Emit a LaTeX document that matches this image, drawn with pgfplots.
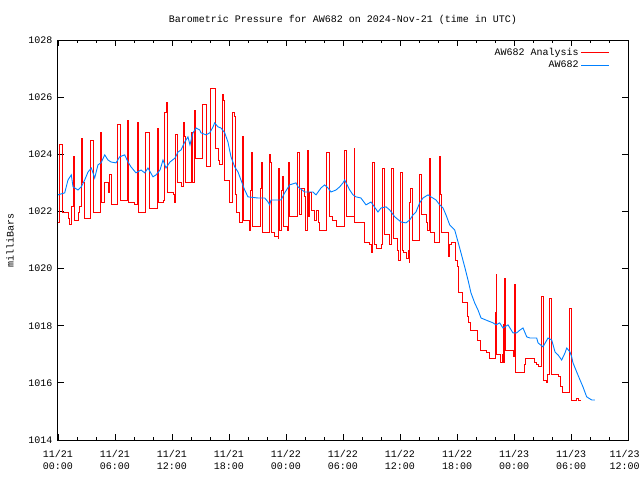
\documentclass[border=0pt]{standalone}
\usepackage{pgfplots}
\pgfplotsset{compat=1.18}
\usepackage{fontspec}
\setmainfont{Liberation Mono}
\definecolor{awred}{RGB}{255,0,0}
\definecolor{awblue}{RGB}{0,128,255}
\newcommand{\gfont}{\fontsize{10}{12}\selectfont}
\begin{document}
\begin{tikzpicture}
\path[use as bounding box] (-58pt,-40pt) rectangle (582pt,440pt);
\begin{axis}[
  scale only axis, width=570pt, height=400pt,
  xmin=0, xmax=60, ymin=1014, ymax=1028,
  xtick={0,6,...,60},
  xticklabels={{11/21\\00:00},{11/21\\06:00},{11/21\\12:00},{11/21\\18:00},{11/22\\00:00},{11/22\\06:00},{11/22\\12:00},{11/22\\18:00},{11/23\\00:00},{11/23\\06:00},{11/23\hspace*{7pt}\\12:00\hspace*{7pt}}},
  minor x tick num=2,
  ytick={1014,1016,...,1028},
  /pgf/number format/1000 sep={},
  /pgf/number format/assume math mode=true,
  tick label style={font=\gfont},
  xticklabel style={align=center, yshift=-7pt},
  yticklabel style={xshift=-2pt},
  major tick length=6pt, minor tick length=3pt,
  tick style={black, line width=0.8pt},
  axis line style={line width=1pt},
  ylabel={milliBars},
  ylabel style={font=\gfont, at={(axis description cs:-0.084,0.5)}, anchor=center},
  title={Barometric Pressure for AW682 on 2024-Nov-21 (time in UTC)},
  title style={font=\gfont, at={(axis description cs:0.5,1)}, anchor=base, yshift=11pt},
  legend plot pos=right,
  legend cell align=right,
  legend style={draw=none, fill=none, font=\gfont, at={(axis description cs:0.968,0.985)}, anchor=north east, row sep=0pt, inner sep=0pt},
  legend image code/.code={\draw[#1] (0pt,0pt) -- (28pt,0pt);},
]
\addplot[const plot mark left, awred, line width=0.9pt] coordinates {
(0.00,1021.60) (0.18,1024.33) (0.42,1021.98) (1.05,1021.77) (1.23,1021.53) (1.44,1022.16) (1.63,1023.94) (1.68,1021.70) (2.11,1021.95) (2.28,1022.16) (2.45,1024.57) (2.53,1023.00) (2.81,1021.77) (3.40,1024.50) (3.76,1021.98) (4.49,1024.75) (4.58,1022.30) (4.92,1023.00) (5.26,1022.65) (5.44,1023.28) (5.61,1022.23) (6.24,1025.03) (6.60,1022.40) (7.29,1025.20) (7.44,1022.30) (8.00,1022.23) (8.35,1025.10) (8.42,1021.95) (9.19,1024.75) (9.65,1022.12) (10.45,1024.92) (10.60,1022.30) (11.05,1022.40) (11.23,1025.45) (11.40,1025.83) (11.51,1022.68) (12.11,1022.58) (12.28,1022.30) (12.39,1024.68) (12.53,1023.00) (12.98,1022.86) (13.16,1025.10) (13.26,1024.61) (13.40,1023.00) (14.03,1024.75) (14.11,1023.00) (14.32,1025.55) (14.49,1023.87) (15.19,1025.73) (15.61,1023.56) (16.07,1026.32) (16.53,1026.08) (16.60,1024.22) (16.84,1023.80) (17.02,1023.63) (17.26,1026.08) (17.44,1025.90) (17.55,1023.10) (18.03,1022.30) (18.32,1025.45) (18.53,1025.31) (18.66,1022.58) (18.77,1021.98) (19.13,1021.63) (19.40,1024.61) (19.47,1021.70) (20.11,1021.53) (20.18,1021.35) (20.28,1022.75) (20.35,1024.08) (20.42,1021.46) (21.34,1022.82) (21.40,1023.73) (21.47,1021.25) (22.21,1023.98) (22.35,1023.73) (22.45,1021.25) (22.81,1021.11) (23.16,1021.07) (23.23,1023.52) (23.34,1021.35) (23.51,1022.75) (23.58,1023.21) (23.68,1021.46) (24.14,1021.35) (24.21,1023.73) (24.39,1021.81) (25.16,1024.08) (25.44,1021.88) (25.61,1022.82) (25.97,1022.51) (26.07,1021.35) (26.24,1024.15) (26.39,1021.81) (26.49,1022.68) (26.66,1022.05) (27.02,1021.70) (27.19,1022.05) (27.37,1021.60) (27.55,1021.35) (28.24,1024.08) (28.53,1021.81) (28.87,1021.70) (29.29,1021.46) (30.11,1024.15) (30.35,1021.81) (31.16,1024.22) (31.23,1021.63) (32.28,1020.93) (32.81,1020.83) (32.98,1020.58) (33.08,1023.70) (33.26,1020.83) (33.51,1020.72) (34.03,1020.83) (34.14,1023.52) (34.32,1021.18) (34.84,1020.83) (35.08,1023.52) (35.26,1021.07) (35.72,1020.65) (35.79,1020.30) (36.07,1023.35) (36.21,1020.65) (36.32,1020.55) (36.66,1020.37) (36.84,1020.65) (36.95,1020.20) (37.02,1022.33) (37.13,1022.82) (37.26,1021.00) (38.05,1023.28) (38.24,1021.88) (38.77,1021.63) (38.87,1021.35) (39.13,1023.87) (39.19,1021.25) (39.58,1020.90) (40.11,1023.91) (40.24,1022.58) (40.35,1021.25) (41.05,1020.93) (41.13,1020.41) (41.23,1020.83) (41.40,1020.90) (41.82,1020.30) (42.03,1020.06) (42.18,1019.18) (42.53,1018.83) (43.08,1018.31) (43.23,1018.10) (43.44,1017.85) (44.14,1017.50) (44.49,1017.15) (45.08,1017.08) (45.44,1016.87) (46.03,1018.45) (46.11,1019.78) (46.18,1016.98) (46.60,1016.70) (46.74,1016.98) (46.84,1018.03) (46.89,1016.73) (47.02,1019.67) (47.13,1017.15) (47.89,1016.91) (48.03,1019.43) (48.11,1016.38) (48.98,1016.35) (49.08,1016.63) (49.16,1016.87) (50.14,1016.70) (50.39,1016.63) (50.56,1016.56) (50.92,1019.01) (51.08,1016.10) (51.44,1016.03) (51.55,1016.28) (51.68,1018.97) (51.97,1016.28) (52.66,1016.21) (52.84,1015.86) (53.08,1015.68) (53.82,1018.62) (54.00,1015.47) (54.07,1015.40) (54.60,1015.47) (54.77,1015.37) (54.95,1015.40)
};
\addlegendentry{AW682 Analysis}
\addplot[awblue, line width=0.9pt] coordinates {
(0.00,1022.58) (0.71,1022.65) (1.05,1023.10) (1.40,1023.28) (1.58,1022.86) (2.11,1022.75) (2.45,1022.86) (2.81,1023.10) (3.16,1023.38) (3.51,1023.52) (3.86,1023.17) (4.21,1023.63) (4.53,1023.70) (4.92,1023.98) (5.26,1023.80) (5.58,1023.73) (6.11,1023.70) (6.49,1023.91) (7.02,1023.98) (7.37,1023.73) (7.68,1023.56) (8.21,1023.35) (8.74,1023.45) (9.13,1023.35) (9.47,1023.52) (10.00,1023.21) (10.32,1023.28) (10.74,1023.45) (11.05,1023.80) (11.37,1023.52) (11.79,1023.73) (12.32,1023.87) (12.63,1024.08) (12.95,1024.15) (13.34,1024.43) (13.68,1024.61) (13.89,1024.33) (14.21,1024.75) (14.53,1024.92) (14.92,1024.85) (15.05,1024.75) (15.58,1024.68) (15.97,1024.75) (16.32,1024.96) (16.49,1025.10) (16.84,1024.96) (17.16,1024.92) (17.55,1024.75) (17.89,1024.43) (18.21,1023.91) (18.60,1023.56) (18.95,1023.38) (19.26,1023.10) (19.65,1022.75) (20.00,1022.51) (21.05,1022.47) (21.76,1022.47) (22.11,1022.33) (22.28,1022.23) (22.42,1022.40) (23.47,1022.40) (23.86,1022.65) (24.39,1022.93) (25.05,1023.00) (25.26,1022.86) (25.97,1022.68) (26.84,1022.68) (27.16,1022.58) (27.68,1022.82) (28.07,1022.93) (28.42,1022.82) (28.74,1022.68) (29.26,1022.75) (29.65,1022.86) (30.00,1023.00) (30.18,1023.10) (30.32,1023.00) (30.71,1022.75) (31.05,1022.58) (31.37,1022.51) (31.89,1022.47) (32.42,1022.23) (32.95,1022.33) (33.68,1021.98) (34.00,1022.12) (34.53,1022.16) (34.92,1022.05) (35.45,1021.81) (36.11,1021.63) (36.63,1021.60) (37.02,1021.70) (37.37,1021.88) (37.68,1021.98) (38.07,1022.30) (38.42,1022.47) (38.95,1022.58) (39.26,1022.51) (39.79,1022.40) (40.18,1022.23) (40.53,1022.12) (40.84,1021.88) (41.23,1021.53) (41.76,1021.35) (42.11,1020.93) (42.42,1020.55) (42.81,1020.06) (43.16,1019.60) (43.47,1019.15) (43.86,1018.80) (44.21,1018.55) (44.53,1018.27) (45.26,1018.17) (45.79,1018.10) (46.11,1018.03) (46.49,1018.10) (46.84,1017.92) (47.37,1018.03) (47.89,1017.75) (48.28,1017.75) (48.63,1017.85) (48.95,1017.92) (49.34,1017.61) (49.68,1017.57) (50.39,1017.57) (50.53,1017.40) (51.05,1017.26) (51.58,1017.57) (51.97,1017.50) (52.32,1017.08) (52.63,1016.98) (53.02,1016.80) (53.37,1017.05) (53.55,1017.22) (53.89,1017.08) (54.07,1016.91) (54.21,1016.70) (54.60,1016.38) (54.95,1016.10) (55.26,1015.86) (55.65,1015.51) (56.18,1015.40) (56.50,1015.40)
};
\addlegendentry{AW682}
\end{axis}
\end{tikzpicture}
\end{document}
